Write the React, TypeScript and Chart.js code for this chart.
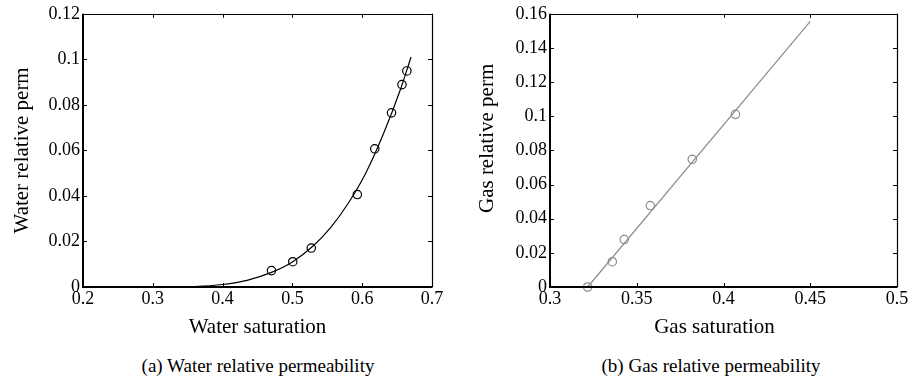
import React, { useEffect, useRef } from 'react';
import { Chart, registerables } from 'chart.js';

Chart.register(...registerables);

// ---- Data ----
const waterSatPoints = [0.470, 0.5005, 0.527, 0.593, 0.618, 0.642, 0.657, 0.664];
const waterPermPoints = [0.0072, 0.0111, 0.0171, 0.0406, 0.0607, 0.0765, 0.0889, 0.0949];
const waterCurveSat = [0.28, 0.30, 0.33, 0.36, 0.40, 0.435, 0.47, 0.50, 0.53, 0.555, 0.58, 0.605, 0.63, 0.655, 0.67];
const waterCurvePerm = [0, 0.00001, 0.00004, 0.0002, 0.0011, 0.0029, 0.0064, 0.011, 0.0181, 0.0262, 0.0368, 0.05, 0.067, 0.087, 0.101];

const gasSatPoints = [0.3217, 0.3359, 0.3428, 0.3578, 0.382, 0.4069];
const gasPermPoints = [0, 0.0148, 0.0278, 0.0477, 0.0748, 0.1011];
const gasLineSat = [0.3217, 0.45];
const gasLinePerm = [0, 0.1556];

const waterXTicks = [0.2, 0.3, 0.4, 0.5, 0.6, 0.7];
const waterYTicks = [0, 0.02, 0.04, 0.06, 0.08, 0.1, 0.12];
const gasXTicks = [0.3, 0.35, 0.4, 0.45, 0.5];
const gasYTicks = [0, 0.02, 0.04, 0.06, 0.08, 0.1, 0.12, 0.14, 0.16];

const FONT = "'Liberation Serif', 'Times New Roman', serif";

const fmt = (v: number) => String(Number(v.toFixed(4)));

const framePlugin = {
  id: 'matlabFrame',
  afterDraw(chart: any) {
    const { ctx, chartArea } = chart;
    const { left, right, top, bottom } = chartArea;
    const xs = chart.scales.x;
    const ys = chart.scales.y;
    ctx.save();
    ctx.strokeStyle = '#000';
    ctx.lineWidth = 1;
    const tl = 4;
    ctx.beginPath();
    xs.ticks.forEach((t: any) => {
      const px = Math.round(xs.getPixelForValue(t.value)) + 0.5;
      ctx.moveTo(px, bottom);
      ctx.lineTo(px, bottom - tl);
      ctx.moveTo(px, top);
      ctx.lineTo(px, top + tl);
    });
    ys.ticks.forEach((t: any) => {
      const py = Math.round(ys.getPixelForValue(t.value)) + 0.5;
      ctx.moveTo(left, py);
      ctx.lineTo(left + tl, py);
      ctx.moveTo(right, py);
      ctx.lineTo(right - tl, py);
    });
    ctx.stroke();
    ctx.beginPath();
    ctx.lineWidth = 1.2;
    ctx.moveTo(left, Math.round(top) + 0.5);
    ctx.lineTo(right, Math.round(top) + 0.5);
    ctx.moveTo(Math.round(right) + 0.5, top);
    ctx.lineTo(Math.round(right) + 0.5, bottom);
    ctx.stroke();
    ctx.beginPath();
    ctx.lineWidth = 2;
    ctx.moveTo(Math.round(left), top);
    ctx.lineTo(Math.round(left), Math.round(bottom));
    ctx.lineTo(right + 0.5, Math.round(bottom));
    ctx.stroke();
    ctx.restore();
  },
};

type PanelProps = {
  curveX: number[];
  curveY: number[];
  ptsX: number[];
  ptsY: number[];
  xTicks: number[];
  yTicks: number[];
  xTitle: string;
  yTitle: string;
  color: string;
  smooth: boolean;
  yAxisWidth: number;
  yTitleX: number;
  yTitleShift: number;
  xTitleShift: number;
  padRight: number;
  left: number;
};

function Panel(p: PanelProps) {
  const ref = useRef<HTMLCanvasElement | null>(null);
  useEffect(() => {
    if (!ref.current) return;
    const titlePlugin = {
      id: 'axisTitles',
      afterDraw(chart: any) {
        const { ctx, chartArea } = chart;
        ctx.save();
        ctx.fillStyle = '#000';
        ctx.font = `21px ${FONT}`;
        ctx.textAlign = 'center';
        ctx.textBaseline = 'middle';
        const cx = (chartArea.left + chartArea.right) / 2 + p.xTitleShift;
        ctx.fillText(p.xTitle, cx, 327);
        const cy = (chartArea.top + chartArea.bottom) / 2 + p.yTitleShift;
        ctx.translate(p.yTitleX, cy);
        ctx.rotate(-Math.PI / 2);
        ctx.fillText(p.yTitle, 0, 0);
        ctx.restore();
      },
    };
    const chart = new Chart(ref.current, {
      type: 'scatter',
      data: {
        datasets: [
          {
            data: p.curveX.map((x, i) => ({ x, y: p.curveY[i] })),
            showLine: true,
            borderColor: p.color,
            borderWidth: 1.2,
            pointRadius: 0,
            cubicInterpolationMode: p.smooth ? 'monotone' : 'default',
            clip: false,
          } as any,
          {
            data: p.ptsX.map((x, i) => ({ x, y: p.ptsY[i] })),
            showLine: false,
            borderColor: p.color,
            backgroundColor: 'rgba(0,0,0,0)',
            pointBorderColor: p.color,
            pointBackgroundColor: 'rgba(0,0,0,0)',
            pointBorderWidth: 1.2,
            pointRadius: 4.2,
            clip: false,
          } as any,
        ],
      },
      options: {
        animation: false,
        responsive: false,
        devicePixelRatio: 1,
        layout: { padding: { top: 13, right: p.padRight, left: 0, bottom: 0 } },
        plugins: { legend: { display: false }, tooltip: { enabled: false } },
        scales: {
          x: {
            type: 'linear',
            min: p.xTicks[0],
            max: p.xTicks[p.xTicks.length - 1],
            afterBuildTicks: (s: any) => {
              s.ticks = p.xTicks.map((v) => ({ value: v }));
            },
            afterFit: (s: any) => {
              s.height = 63;
            },
            grid: { display: false, drawTicks: false },
            border: { display: false },
            ticks: {
              padding: 1,
              color: '#000',
              font: { family: FONT, size: 18 },
              callback: (v: any) => fmt(Number(v)),
              maxRotation: 0,
              autoSkip: false,
            },
            title: { display: false },
          },
          y: {
            type: 'linear',
            min: p.yTicks[0],
            max: p.yTicks[p.yTicks.length - 1],
            afterBuildTicks: (s: any) => {
              s.ticks = p.yTicks.map((v) => ({ value: v }));
            },
            afterFit: (s: any) => {
              s.width = p.yAxisWidth;
            },
            grid: { display: false, drawTicks: false },
            border: { display: false },
            ticks: {
              padding: 3,
              color: '#000',
              font: { family: FONT, size: 18 },
              callback: (v: any) => fmt(Number(v)),
              autoSkip: false,
            },
            title: { display: false },
          },
        },
      },
      plugins: [framePlugin, titlePlugin],
    } as any);
    return () => chart.destroy();
  }, []);
  return (
    <canvas
      ref={ref}
      width={456}
      height={350}
      style={{ position: 'absolute', left: p.left, top: 0, width: 456, height: 350 }}
    />
  );
}

const captionStyle = (cx: number): React.CSSProperties => ({
  position: 'absolute',
  left: cx - 200,
  width: 400,
  top: 353,
  textAlign: 'center',
  fontFamily: FONT,
  fontSize: 19,
  lineHeight: '26px',
  color: '#000',
  whiteSpace: 'nowrap',
});

export default function App() {
  return (
    <div style={{ position: 'absolute', left: 0, top: 0, width: 912, height: 392, background: '#fff', overflow: 'hidden' }}>
      <Panel
        curveX={waterCurveSat}
        curveY={waterCurvePerm}
        ptsX={waterSatPoints}
        ptsY={waterPermPoints}
        xTicks={waterXTicks}
        yTicks={waterYTicks}
        xTitle="Water saturation"
        yTitle="Water relative perm"
        color="#000000"
        smooth={true}
        yAxisWidth={83}
        yTitleX={22}
        yTitleShift={0}
        xTitleShift={0}
        padRight={24}
        left={0}
      />
      <Panel
        curveX={gasLineSat}
        curveY={gasLinePerm}
        ptsX={gasSatPoints}
        ptsY={gasPermPoints}
        xTicks={gasXTicks}
        yTicks={gasYTicks}
        xTitle="Gas saturation"
        yTitle="Gas relative perm"
        color="#8c8c8c"
        smooth={false}
        yAxisWidth={94}
        yTitleX={31}
        yTitleShift={-12}
        xTitleShift={-9}
        padRight={15}
        left={456}
      />
      <div style={captionStyle(258)}>(a) Water relative permeability</div>
      <div style={captionStyle(711)}>(b) Gas relative permeability</div>
    </div>
  );
}
